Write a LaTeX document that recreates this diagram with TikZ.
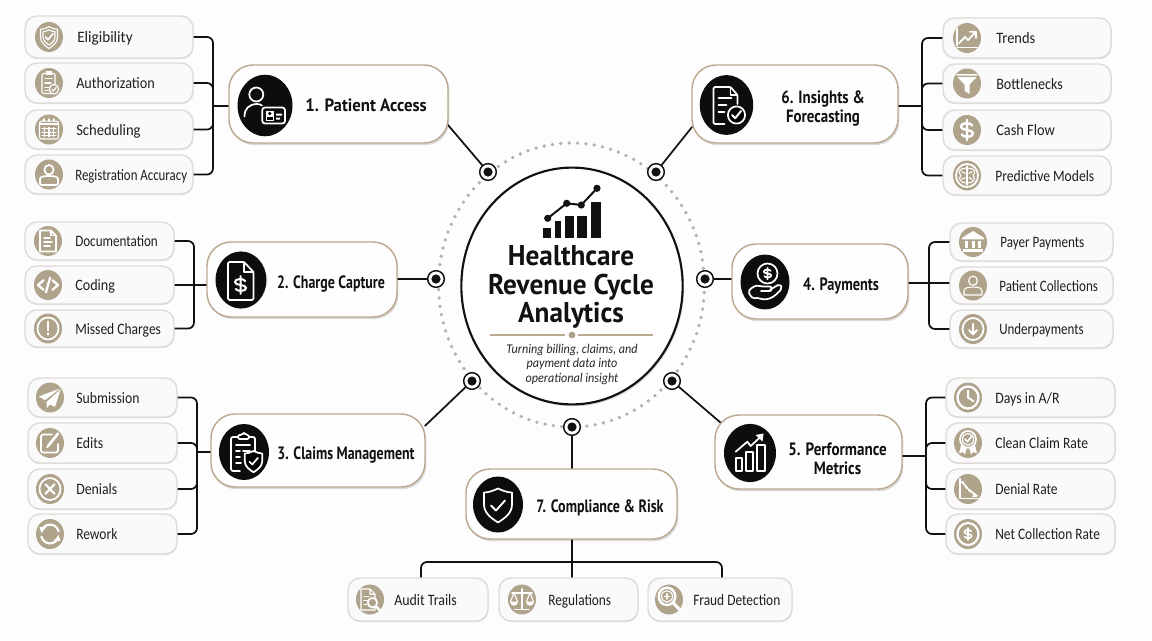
\documentclass[tikz,border=0pt]{standalone}
\usepackage{fontspec}
\setmainfont{Carlito}
\newfontfamily\headfont{PT Sans}
\usetikzlibrary{shadows,arrows.meta}
\pgfdeclarelayer{bg}
\pgfsetlayers{bg,main}
\definecolor{tanc}{HTML}{AFA38C}
\definecolor{edgec}{HTML}{BBA991}
\definecolor{leafedge}{HTML}{DDDCD8}
\definecolor{ink}{HTML}{111111}
\definecolor{dotc}{HTML}{B2B2B2}
\newcommand\sx[2]{\pgfmathsetmacro\sxf{#1*.958}\scalebox{\sxf}[1]{#2}}
\def\sh{(0,8) .. controls (2.5,6.8) and (5,6) .. (7,6) -- (7,0) .. controls (7,-4.5) and (3,-7) .. (0,-9) .. controls (-3,-7) and (-7,-4.5) .. (-7,0) -- (-7,6) .. controls (-5,6) and (-2.5,6.8) .. (0,8) -- cycle}
\def\dollarp{(3,2.5) .. controls (2,4.2) and (-3.5,4.2) .. (-3.5,1.8) .. controls (-3.5,-0.5) and (3.5,0.5) .. (3.5,-1.8) .. controls (3.5,-4.2) and (-2,-4.2) .. (-3,-2.5) (0,5.5) -- (0,-5.5)}
\tikzset{
 x=0.75pt,y=0.75pt,
 ic/.style={draw=white,line width=0.85pt,line join=round,line cap=round,fill=none},
 ict/.style={ic,line width=1.3pt},
 wire/.style={draw=ink,line width=1.3pt,line cap=round},
 wirer/.style={wire,rounded corners=4.5pt},
 leafbox/.style={draw=leafedge,line width=1.1pt,fill=white!98!black,rounded corners=9pt,inner sep=0pt,outer sep=0pt,
   drop shadow={shadow xshift=0.4pt,shadow yshift=-0.9pt,opacity=.12,fill=black}},
 leaftext/.style={font=\fontsize{11.9}{13}\selectfont,text=black!88,inner sep=0pt,anchor=mid west},
 mainbox/.style={draw=edgec,line width=1.1pt,fill=white!99.5!black,rounded corners=18pt,inner sep=0pt,outer sep=0pt,
   drop shadow={shadow xshift=1pt,shadow yshift=-1.6pt,opacity=.14,fill=black}},
 maintext/.style={font=\headfont\bfseries\fontsize{13.4}{14.2}\selectfont,text=ink,align=center,inner sep=0pt,transform shape},
 portn/.style={circle,draw=ink,line width=1.1pt,fill=white,minimum width=12.5pt,inner sep=0pt,outer sep=0pt},
 pics/eligib/.style={code={\draw[ic,scale=1.22]\sh;\draw[ic,scale=.85]\sh;\draw[ict] (-3.6,0)--(-1,-2.6)--(4,3);}},
 pics/authz/.style={code={\draw[ic,rounded corners=1pt] (-7,-10) rectangle (6,9);\fill[white] (-3,8) rectangle (3,11);
   \draw[ic] (-4,4)--(3,4) (-4,0)--(2,0) (-4,-4)--(0,-4) (-4,-7)--(0,-7);
   \draw[ic,fill=tanc] (5,-6) circle (4.6);\draw[ic] (3,-6)--(4.5,-7.6)--(7.2,-4.2);}},
 pics/sched/.style={code={\draw[ic,rounded corners=1.5pt] (-9.5,-9) rectangle (9.5,8);\draw[ict] (-9.5,5)--(9.5,5) (-5,8)--(-5,10) (0,8)--(0,10) (5,8)--(5,10);
   \draw[ic] (-7,1)--(7,1) (-7,-2.5)--(7,-2.5) (-7,-6)--(7,-6) (-4.5,2)--(-4.5,-7) (0,2)--(0,-7) (4.5,2)--(4.5,-7);}},
 pics/person/.style={code={\draw[ict] (0,4.5) circle (4.6);\draw[ict,rounded corners=1pt] (-9,-10) -- (-9,-5.5) .. controls (-9,-2) and (-5,-1.5) .. (0,-1.5) .. controls (5,-1.5) and (9,-2) .. (9,-5.5) -- (9,-10) -- cycle;}},
 pics/docp/.style={code={\draw[ict] (-8,-10)--(8,-10)--(8,5)--(3,10)--(-8,10)--cycle;\draw[ic] (3,10)--(3,5)--(8,5);\draw[ict] (-4,3)--(2,3) (-4,-1)--(4,-1) (-4,-5)--(2,-5);}},
 pics/codep/.style={code={\draw[ict,line width=1.7pt] (-4.5,4.5)--(-10,0)--(-4.5,-4.5) (4.5,4.5)--(10,0)--(4.5,-4.5) (-2,-7)--(2,7);}},
 pics/missed/.style={code={\draw[ict] (0,0) circle (10.5);\draw[ict,line width=1.8pt] (0,6.5)--(0,-1.5);\fill[white] (0,-5.2) circle (1.5);}},
 pics/plane/.style={code={\fill[white] (11,9)--(-11,1)--(-5,-2.5)--cycle;\fill[white] (11,9)--(-3.5,-3.5)--(-3,-10)--(0,-6.5)--(5,-9)--cycle;\draw[tanc,line width=.7pt] (11,9)--(-3.5,-3.5);}},
 pics/edits/.style={code={\draw[ict,rounded corners=1.5pt] (2,8)--(-9,8)--(-9,-9)--(8,-9)--(8,-1);\draw[ict,line width=2pt] (-2,-3)--(8,9);\draw[ic] (-3.5,-4.5)--(-1,-2);}},
 pics/denials/.style={code={\draw[ict] (0,0) circle (10.5);\draw[ict,line width=1.6pt] (-4.5,-4.5)--(4.5,4.5) (-4.5,4.5)--(4.5,-4.5);}},
 pics/rework/.style={code={\draw[ict,line width=1.6pt] (8.7,2.5) arc (16:150:9);\draw[ict,line width=1.6pt] (-8.7,-2.5) arc (196:330:9);\fill[white] (-10.5,6.5)--(-3.5,7)--(-8.5,1)--cycle;\fill[white] (10.5,-6.5)--(3.5,-7)--(8.5,-1)--cycle;}},
 pics/trends/.style={code={\draw[ict] (-10,9)--(-10,-7) (-10,-9)--(10,-9);\draw[ict] (-8,-5)--(-2,1)--(1,-2)--(8,5) (3,6)--(9,6)--(9,0);}},
 pics/funnel/.style={code={\fill[white] (-10.5,9)--(10.5,9)--(10,7.5)--(-10,7.5)--cycle;\fill[white] (-9.5,6)--(9.5,6)--(2.5,-1)--(2.5,-10)--(-2.5,-7)--(-2.5,-1)--cycle;}},
 pics/cash/.style={code={\draw[ict,line width=1.8pt,scale=1.75]\dollarp;}},
 pics/brain/.style={code={\draw[ict] (0,0) circle (11);\draw[ic] (0,9)--(0,-9);
   \draw[ic] (-1.5,7) .. controls (-8,7) and (-9,2) .. (-6,0) .. controls (-9,-2) and (-7,-7) .. (-1.5,-7) (-5,3.5)--(-2,2) (-5,-3.5)--(-2,-2);
   \draw[ic] (1.5,7) .. controls (8,7) and (9,2) .. (6,0) .. controls (9,-2) and (7,-7) .. (1.5,-7) (5,3.5)--(2,2) (5,-3.5)--(2,-2);}},
 pics/bank/.style={code={\fill[white] (-11,4)--(0,10.5)--(11,4)--(11,2.5)--(-11,2.5)--cycle;\fill[white] (-10,-7)rectangle(10,-9.5);
   \foreach \c in {-6.5,0,6.5}{\fill[white] (\c-1.5,1) rectangle (\c+1.5,-6);}}},
 pics/patient/.style={code={\draw[ic] (0,4.5) circle (4.4);\draw[ic] (-9,-9)--(-9,-5.5) .. controls (-9,-2) and (-5,-1.5) .. (0,-1.5) .. controls (5,-1.5) and (9,-2) .. (9,-5.5)--(9,-9)--cycle;}},
 pics/under/.style={code={\draw[ict] (0,0) circle (10.5);\draw[ict,line width=1.5pt] (0,5)--(0,-5) (-4,-1)--(0,-5)--(4,-1);}},
 pics/clockp/.style={code={\draw[ict,line width=1.7pt] (0,0) circle (10.5);\draw[ict,line width=1.5pt] (0,6.5)--(0,0)--(5.5,-3.5);}},
 pics/badge/.style={code={\fill[white] (-7,-2)--(-9,-10)--(-5,-8.5)--(-3,-11)--(-1,-4)--cycle;\fill[white] (7,-2)--(9,-10)--(5,-8.5)--(3,-11)--(1,-4)--cycle;
   \draw[ic,fill=tanc,line width=1.3pt] (0,3.5) circle (8);\draw[ic] (0,3.5) circle (5.6);\draw[ict] (-3,3.5)--(-.7,1.2)--(3.2,5.8);}},
 pics/denrate/.style={code={\draw[ict] (-8,10)--(-8,-9)--(10,-9);\draw[ict,line width=1.6pt,dash pattern=on 3pt off 1pt] (-6,7)--(-1,1)--(1,-1)--(8,-6);\draw[ict] (5,-7)--(9,-6.5);}},
 pics/dollarring/.style={code={\draw[ict,line width=1.6pt] (0,0) circle (10.5);\draw[ict,scale=1.05]\dollarp;}},
 pics/auditp/.style={code={\draw[ic] (-9,-10)--(5,-10)--(5,5)--(0,10)--(-9,10)--cycle (0,10)--(0,5)--(5,5);\draw[ic] (-6,3)--(-1,3) (-6,-1)--(-2,-1) (-6,-5)--(-3,-5);
   \draw[ict,fill=tanc] (2.5,-3) circle (4.6);\draw[ict,line width=1.8pt] (5.8,-6.3)--(10,-10.5);}},
 pics/scalesp/.style={code={\draw[ict] (0,10)--(0,-9) (-7,-9.5)--(7,-9.5) (-10,6.5)--(10,6.5);
   \draw[ic] (-8,6.5)--(-11.5,-2) (-8,6.5)--(-4.5,-2) (8,6.5)--(11.5,-2) (8,6.5)--(4.5,-2);
   \fill[white] (-12,-2) arc (180:360:4) -- cycle;\fill[white] (4,-2) arc (180:360:4) -- cycle;}},
 pics/fraud/.style={code={\draw[ict,line width=1.8pt] (-2,3) circle (8.3);\draw[ic] (-2,3) circle (5.5);\draw[ic] (-4.5,3)--(.5,3) (-2,5.5)--(-2,.5);\draw[ict,line width=2.4pt] (4.2,-3.2)--(11,-10);}},
 %
 pics/bpatient/.style={code={\draw[ict] (-8.7,11) circle (7);\draw[ict] (-20.5,-11) .. controls (-20.5,-3) and (-16,1) .. (-8.5,1.5) .. controls (-6,1.5) and (-4,1) .. (-3,0);
   \draw[ict,rounded corners=2pt] (-2.7,-2) rectangle (20,-18);\fill[white] (.5,-5) rectangle (9,-15);\fill[black] (4.7,-8) circle (1.9);\fill[black] (1.7,-14.5) rectangle (7.8,-11);\fill[white] (11,-8) rectangle (17,-10) (11,-12) rectangle (15,-14);}},
 pics/bcharge/.style={code={\draw[ict,rounded corners=1pt] (-13,-20)--(12.5,-20)--(12.5,8)--(3,18)--(-13,18)--cycle;\draw[ict] (3,18)--(3,8)--(12.5,8);\draw[ict,line width=1.5pt,shift={(-.5,-5)},scale=1.6]\dollarp;}},
 pics/bclaims/.style={code={\draw[ict,rounded corners=1.5pt] (-4,-19)--(-13,-19)--(-13,15)--(11,15)--(11,0);\draw[ict,fill=black,rounded corners=1pt] (-6,13)--(-6,17)--(-2,17)--(-1,19)--(1,19)--(2,17)--(5,17)--(5,13)--cycle;
   \draw[ict] (-8,7)--(6,7) (-8,1)--(-4,1) (-1,1)--(6,1) (-8,-5)--(-4,-5) (-8,-11)--(-3,-11);
   \begin{scope}[shift={(9.5,-9)},scale=1.25]\draw[ict,fill=black]\sh;\draw[ict] (-3.3,-.5)--(-1,-2.8)--(3.5,2.5);\end{scope}}},
 pics/bpay/.style={code={\draw[ict] (2.5,8.5) circle (10);\draw[ict,shift={(2.5,8.5)},scale=1.05]\dollarp;
   \draw[ict,rounded corners=1.5pt] (-4,-9) -- (3,-9) .. controls (7,-9) and (7,-4.5) .. (3,-4.5) -- (-4,-4.5) .. controls (-9,-3) and (-13,-5) .. (-17,-10) -- (-12,-17) .. controls (-7,-15) and (-3,-18) .. (3,-17) .. controls (9,-15) and (14,-10) .. (17,-6) .. controls (16,-3) and (13,-3) .. (11,-4) -- (5,-8);}},
 pics/bperf/.style={code={\draw[ict,line width=1.5pt] (-14.3,-18) rectangle (-7.7,-5.3) (-3.7,-18) rectangle (3.3,1.3) (7.3,-18) rectangle (14.7,8);
   \draw[ict] (-14.3,1.3)--(-2.7,11.3)--(.7,7)--(11.5,17);\fill[white] (5.5,18)--(13.5,19.5)--(12.5,11.5)--cycle;}},
 pics/binsight/.style={code={\draw[ict,rounded corners=1pt] (-2,-19)--(-13,-19)--(-13,18)--(4,18)--(11,10)--(11,1);\draw[ict] (4,18)--(4,10)--(11,10);
   \draw[ict] (-8,7)--(5,7) (-8,0)--(0,0) (-8,-7)--(-2,-7);\draw[ict,fill=black] (10,-10) circle (8.6);\draw[ict,line width=1.5pt] (5.5,-10)--(8.7,-13.2)--(14.5,-6);}},
 pics/bshield/.style={code={\draw[ict,scale=2]\sh;\draw[ict,line width=1.4pt] (-7,-1)--(-2,-6)--(7,4);}},
}
\newcommand\leafitem[9]{%
 \node[leafbox,minimum width={(#4-#2)*0.75pt},minimum height={(#5-#3)*0.75pt}] (#1) at ({(#2+#4)/2},{-(#3+#5)/2}) {};
 \fill[tanc] (#6,{-(#3+#5)/2}) ellipse (14 and 15);
 \pic[yscale=1.05] at (#6,{-(#3+#5)/2}) {#7};
 \node[leaftext] (#1t) at (#8,{-(#3+#5)/2-2.5}) {#9};
}
\newcommand\mainitem[9]{%
 \node[mainbox,minimum width={(#4-#2)*0.75pt},minimum height={(#5-#3)*0.75pt}] (#1) at ({(#2+#4)/2},{-(#3+#5)/2}) {};
 \fill[black!95] (#6,-#7) ellipse (#8 and {#8*1.12});
 \pic at (#6,-#7) {#9};
}
\begin{document}
\begin{tikzpicture}
\useasboundingbox (0,-640) rectangle (1152,0);
\begin{pgfonlayer}{bg}
\fill[white!99.4!black] (0,-640) rectangle (1152,0);
\end{pgfonlayer}
\draw[dotc,line width=2.8pt,line cap=round,dash pattern=on 0pt off 6.3pt] (571.5,-285) ellipse (133 and 142);
\node[circle,draw=ink,line width=1.6pt,fill=white,inner sep=0pt,minimum width=166pt,yscale=1.07,
  drop shadow={shadow xshift=1pt,shadow yshift=-1.4pt,opacity=.16,fill=black}] (hub) at (572,-286) {};
\fill[ink] (543.3,-238.3) rectangle (550.7,-228.3);
\fill[ink] (554.7,-220.7) rectangle (560.7,-238.3);
\fill[ink] (564.7,-216) rectangle (574,-238.3);
\fill[ink] (577.3,-216) rectangle (586.7,-238.3);
\fill[ink] (591.3,-202.3) rectangle (600.7,-238.3);
\draw[ink,line width=1.5pt] (547.7,-218.3)--(566.7,-203.3)--(581.3,-205)--(597,-188.3);
\foreach \a/\b in {547.7/218.3,566.7/203.3,581.3/205,597/188.3}{\fill[ink] (\a,-\b) circle (3.6);}
\node[font=\headfont\bfseries\fontsize{21.4}{21.2}\selectfont,text=ink,align=center,inner sep=0pt,xscale=.955,transform shape] (title) at (571,-287) {Healthcare\\Revenue Cycle\\Analytics};
\draw[edgec,line width=1pt] (490,-335)--(565,-335) (578,-335)--(653,-335);
\fill[tanc] (572,-335) circle (3.4);
\node[font=\itshape\fontsize{10}{10.9}\selectfont,text=black!85,align=center,inner sep=0pt,xscale=.91,transform shape] (sub) at (572,-364.5) {Turning billing, claims, and\\payment data into\\operational insight};
\foreach \n/\a/\b in {p1/488/172,p6/656/172,p2/436/279,p4/705/279,p3/472/381,p5/672/381,p7/572/427}{
  \node[portn] (\n) at (\a,-\b) {};
  \fill[ink] (\n.center) circle (4.6);
}
\mainitem{m1}{229}{65}{448}{143}{265}{105.5}{27.5}{bpatient}
\mainitem{m2}{207}{242}{397}{317}{241}{280}{25.5}{bcharge}
\mainitem{m3}{211}{414}{425}{487}{244}{452}{25}{bclaims}
\mainitem{m4}{732}{244}{908}{319}{765}{282}{24.5}{bpay}
\mainitem{m5}{715}{415}{902}{489}{750}{453}{26}{bperf}
\mainitem{m6}{692}{65}{898}{143}{726.5}{105}{26.7}{binsight}
\mainitem{m7}{466}{469}{677}{539}{498}{504.5}{25}{bshield}
\node[maintext,xscale=.94] (m1t) at (366,-105) {1. Patient Access};
\node[maintext,xscale=.78] (m2t) at (331,-284) {2. Charge Capture};
\node[maintext,xscale=.78] (m3t) at (346,-455) {3. Claims Management};
\node[maintext,xscale=.80] (m4t) at (841,-286) {4. Payments};
\node[maintext,xscale=.845] (m5t) at (837.5,-458.5) {5. Performance\\Metrics};
\node[maintext,xscale=.835] (m6t) at (823,-108.5) {6. Insights \&\\Forecasting};
\node[maintext,xscale=.785] (m7t) at (600,-508) {7. Compliance \& Risk};
\leafitem{a1}{25}{16}{193}{58}{49}{eligib}{77}{\sx{1}{Eligibility}}
\leafitem{a2}{25}{63}{193}{103}{49}{authz}{76}{\sx{.935}{Authorization}}
\leafitem{a3}{25}{110}{193}{149}{49}{sched}{76}{\sx{.96}{Scheduling}}
\leafitem{a4}{25}{155}{193}{194}{49}{person}{75}{\sx{.845}{Registration Accuracy}}
\leafitem{b1}{25}{222}{174}{260}{48}{docp}{75}{\sx{.862}{Documentation}}
\leafitem{b2}{25}{266}{174}{304}{48}{codep}{75}{\sx{.93}{Coding}}
\leafitem{b3}{25}{310}{174}{347}{48}{missed}{75}{\sx{.89}{Missed Charges}}
\leafitem{c1}{28}{378}{177}{417}{50}{plane}{76}{\sx{.905}{Submission}}
\leafitem{c2}{28}{423}{177}{463}{50}{edits}{76}{\sx{.91}{Edits}}
\leafitem{c3}{28}{469}{177}{509}{50}{denials}{76}{\sx{.91}{Denials}}
\leafitem{c4}{28}{514}{177}{554}{50}{rework}{76}{\sx{.885}{Rework}}
\leafitem{f1}{943}{18}{1111}{58}{967}{trends}{996}{\sx{.95}{Trends}}
\leafitem{f2}{943}{64}{1111}{103}{967}{funnel}{996}{\sx{.93}{Bottlenecks}}
\leafitem{f3}{943}{110}{1111}{150}{967}{cash}{996}{\sx{.945}{Cash Flow}}
\leafitem{f4}{943}{156}{1111}{195}{967}{brain}{995}{\sx{.895}{Predictive Models}}
\leafitem{d1}{950}{223}{1113}{261}{973}{bank}{1000}{\sx{.862}{Payer Payments}}
\leafitem{d2}{950}{267}{1113}{304}{973}{patient}{999}{\sx{.862}{Patient Collections}}
\leafitem{d3}{950}{310}{1113}{348}{973}{under}{999}{\sx{.853}{Underpayments}}
\leafitem{e1}{946}{378}{1115}{417}{968}{clockp}{995}{\sx{.915}{Days in A/R}}
\leafitem{e2}{946}{423}{1115}{463}{968}{badge}{995}{\sx{.895}{Clean Claim Rate}}
\leafitem{e3}{946}{469}{1115}{509}{968}{denrate}{995}{\sx{.885}{Denial Rate}}
\leafitem{e4}{946}{514}{1115}{554}{968}{dollarring}{995}{\sx{.882}{Net Collection Rate}}
\leafitem{g1}{348}{578}{488}{621}{370}{auditp}{394}{\sx{.915}{Audit Trails}}
\leafitem{g2}{499}{578}{638}{621}{522}{scalesp}{548}{\sx{.877}{Regulations}}
\leafitem{g3}{648}{578}{792}{621}{669}{fraud}{693}{\sx{.88}{Fraud Detection}}
\coordinate (s1) at (213,-106);
\coordinate (s2) at (194,-282);
\coordinate (s3) at (197,-452);
\coordinate (s4) at (929,-283);
\coordinate (s5) at (926,-456);
\coordinate (s6) at (922,-106);
\coordinate (s7) at (572,-562);
\begin{pgfonlayer}{bg}
\draw[wire] (p1) -- ([yshift=-15.75pt]m1.east);
\draw[wire] (p6) -- ([yshift=-17.25pt]m6.west);
\draw[wire] (p2) -- (p2 -| m2.east);
\draw[wire] (p4) -- (p4 -| m4.west);
\draw[wire] (p3) -- ([yshift=18.5pt]m3.east);
\draw[wire] (p5) -- ([xshift=4.5pt,yshift=-6pt]m5.north west);
\draw[wire] (p7) -- (p7 |- m7.north);
\draw[wirer] (a1.east) -| (s1) |- (a4.east);
\draw[wirer] (a2.east) -| (s1);
\draw[wirer] (a3.east) -| (s1);
\draw[wire] (s1) -- (s1 -| m1.west);
\draw[wirer] (b1.east) -| (s2) |- (b3.east);
\draw[wire] (b2.east) -- (b2.east -| m2.west);
\draw[wirer] (c1.east) -| (s3) |- (c4.east);
\draw[wirer] (c2.east) -| (s3);
\draw[wirer] (c3.east) -| (s3);
\draw[wire] (s3) -- (s3 -| m3.west);
\draw[wirer] (d1.west) -| (s4) |- (d3.west);
\draw[wire] (s4 -| m4.east) -- (s4) -- (s4 -| d2.west);
\draw[wirer] (e1.west) -| (s5) |- (e4.west);
\draw[wirer] (e2.west) -| (s5);
\draw[wirer] (e3.west) -| (s5);
\draw[wire] (s5) -- (s5 -| m5.east);
\draw[wirer] (f1.west) -| (s6) |- (f4.west);
\draw[wirer] (f2.west) -| (s6);
\draw[wirer] (f3.west) -| (s6);
\draw[wire] (s6) -- (s6 -| m6.east);
\draw[wire] (s7 |- m7.south) -- (s7 |- g2.north);
\draw[wirer] (421,0 |- g1.north) |- (s7) -| (722,0 |- g3.north);
\end{pgfonlayer}
\end{tikzpicture}
\end{document}
